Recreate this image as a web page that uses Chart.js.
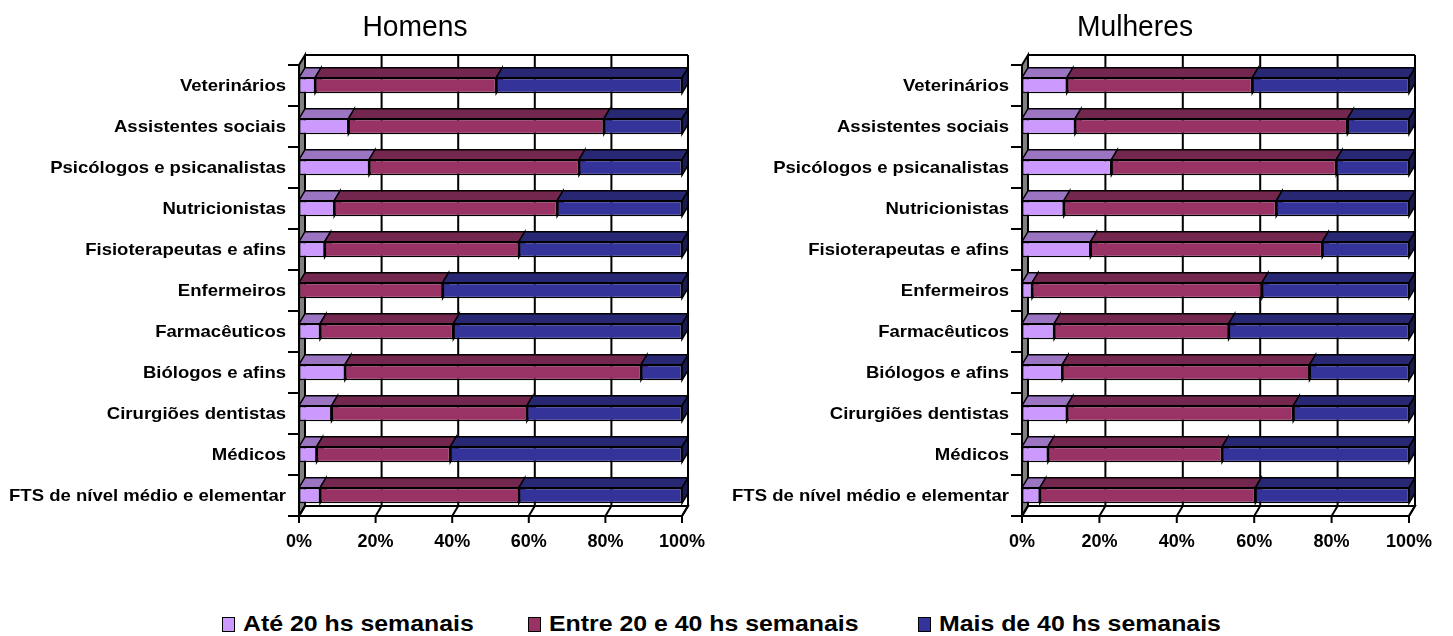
<!DOCTYPE html>
<html>
<head>
<meta charset="utf-8">
<script src="https://cdn.jsdelivr.net/npm/chart.js@4.4.1/dist/chart.umd.min.js"></script>
<style>
  html, body { margin:0; padding:0; background:#fff; }
  #pagina { position:relative; width:1453px; height:636px; overflow:hidden; font-family:"Liberation Sans", Arial, sans-serif; }
  .painel { position:absolute; top:0; }
  .titulo { position:absolute; top:11px; width:300px; text-align:center; font-size:30px; line-height:30px; color:#000; transform:scaleX(0.94); }
  .leg { position:absolute; top:611px; display:flex; align-items:center; white-space:nowrap; }
  .leg i { display:inline-block; width:11px; height:13px; border:1.5px solid #000; margin-right:8px; }
  .leg span { font-size:22px; font-weight:bold; display:inline-block; transform:scaleX(1.13); transform-origin:left center; }
</style>
</head>
<body>
<div id="pagina">
  <canvas id="cHomens" class="painel" width="720" height="560" style="left:0"></canvas>
  <canvas id="cMulheres" class="painel" width="728" height="560" style="left:725px"></canvas>
  <div class="titulo" style="left:265px">Homens</div>
  <div class="titulo" style="left:985px">Mulheres</div>
  <div id="legenda"></div>
</div>
<script>
// categorias de cima para baixo
const categorias = ['Veterinários', 'Assistentes sociais', 'Psicólogos e psicanalistas', 'Nutricionistas',
  'Fisioterapeutas e afins', 'Enfermeiros', 'Farmacêuticos', 'Biólogos e afins',
  'Cirurgiões dentistas', 'Médicos', 'FTS de nível médio e elementar'];
const series = ['Até 20 hs semanais', 'Entre 20 e 40 hs semanais', 'Mais de 40 hs semanais'];

const homensAte20   = [4.2, 12.9, 18.3, 9.2, 6.7, 0, 5.5, 12.0, 8.5, 4.6, 5.5];
const homens20a40   = [47.3, 66.7, 54.8, 58.2, 50.7, 37.5, 34.8, 77.3, 51.0, 34.9, 51.9];
const homensMais40  = [48.5, 20.4, 26.9, 32.6, 42.6, 62.5, 59.7, 10.7, 40.5, 60.5, 42.6];

const mulheresAte20  = [11.6, 13.7, 23.1, 10.8, 17.7, 2.6, 8.3, 10.4, 11.6, 6.7, 4.6];
const mulheres20a40  = [47.9, 70.4, 58.1, 54.9, 59.9, 59.4, 45.1, 63.9, 58.5, 45.0, 55.7];
const mulheresMais40 = [40.5, 15.9, 18.8, 34.3, 22.4, 38.0, 46.6, 25.7, 29.9, 48.3, 39.7];

const xTicks = [0, 20, 40, 60, 80, 100];
const xTickLabels = ['0%', '20%', '40%', '60%', '80%', '100%'];

const cores = ['#CC99FF', '#993366', '#333399'];
const FONTE = '"Liberation Sans", Arial, sans-serif';

// profundidade da perspectiva 3D
const DX = 6, DY = 10;

function tom(hex, f) {
  const n = parseInt(hex.slice(1), 16);
  const r = (n >> 16) & 255, g = (n >> 8) & 255, b = n & 255;
  return `rgb(${Math.round(r * f)},${Math.round(g * f)},${Math.round(b * f)})`;
}

function poligono(ctx, pts, fill) {
  ctx.beginPath();
  ctx.moveTo(pts[0][0], pts[0][1]);
  for (let k = 1; k < pts.length; k++) ctx.lineTo(pts[k][0], pts[k][1]);
  ctx.closePath();
  if (fill) { ctx.fillStyle = fill; ctx.fill(); }
  ctx.stroke();
}

const caixa3d = {
  id: 'caixa3d',
  beforeDatasetsDraw(chart) {
    const { ctx, chartArea: a, scales: { x, y } } = chart;
    const L = a.left, R = a.right, T = a.top, B = a.bottom;
    ctx.save();
    ctx.lineWidth = 2;
    ctx.strokeStyle = '#000';

    // parede do fundo com as linhas de grade
    ctx.fillStyle = '#fff';
    ctx.fillRect(L + DX, T - DY, R - L, B - T);
    ctx.beginPath();
    ctx.moveTo(L + DX, T - DY); ctx.lineTo(R + DX, T - DY);
    xTicks.forEach(v => {
      const px = x.getPixelForValue(v) + DX;
      ctx.moveTo(px, T - DY); ctx.lineTo(px, B - DY);
    });
    ctx.stroke();

    // parede lateral (cinza) e piso
    poligono(ctx, [[L, T], [L + DX, T - DY], [L + DX, B - DY], [L, B]], '#808080');
    poligono(ctx, [[L, B], [L + DX, B - DY], [R + DX, B - DY], [R, B]], '#fff');
    ctx.beginPath();
    xTicks.forEach(v => {
      const px = x.getPixelForValue(v);
      ctx.moveTo(px, B); ctx.lineTo(px + DX, B - DY);
      ctx.moveTo(px, B); ctx.lineTo(px, B + 7);
    });
    // eixo vertical e marcas entre categorias
    ctx.moveTo(L, T); ctx.lineTo(L, B);
    ctx.moveTo(L, B); ctx.lineTo(R, B);
    const n = categorias.length;
    for (let i = 0; i <= n; i++) {
      let yb;
      if (i === 0) yb = T;
      else if (i === n) yb = B;
      else yb = (y.getPixelForValue(i - 1) + y.getPixelForValue(i)) / 2;
      ctx.moveTo(L - 11, yb); ctx.lineTo(L, yb);
    }
    ctx.stroke();

    // faces de cima e lateral de cada segmento
    ctx.lineWidth = 1.5;
    for (let i = 0; i < n; i++) {
      chart.data.datasets.forEach((ds, d) => {
        const el = chart.getDatasetMeta(d).data[i];
        const p = el.getProps(['x', 'y', 'base', 'height'], true);
        const esq = Math.min(p.base, p.x), dir = Math.max(p.base, p.x);
        if (dir - esq < 0.5) return;
        const topo = p.y - p.height / 2, baixo = p.y + p.height / 2;
        poligono(ctx, [[dir, topo], [dir + DX, topo - DY], [dir + DX, baixo - DY], [dir, baixo]], tom(cores[d], 0.5));
        poligono(ctx, [[esq, topo], [esq + DX, topo - DY], [dir + DX, topo - DY], [dir, topo]], tom(cores[d], 0.76));
      });
    }
    ctx.restore();
  },
  afterDraw(chart) {
    const { ctx, chartArea: a, scales: { x, y } } = chart;
    ctx.save();
    ctx.fillStyle = '#000';
    ctx.textBaseline = 'middle';
    ctx.font = 'bold 17px ' + FONTE;
    ctx.textAlign = 'right';
    categorias.forEach((c, i) => {
      ctx.save();
      ctx.translate(a.left - 13, y.getPixelForValue(i) + 1);
      ctx.scale(1.09, 1);
      ctx.fillText(c, 0, 0);
      ctx.restore();
    });
    ctx.font = 'bold 18px ' + FONTE;
    ctx.textAlign = 'center';
    xTicks.forEach((v, k) => {
      ctx.fillText(xTickLabels[k], x.getPixelForValue(v), a.bottom + 26);
    });
    ctx.restore();
  }
};

function grafico(id, dados, padding) {
  return new Chart(document.getElementById(id), {
    type: 'bar',
    data: {
      labels: categorias,
      datasets: series.map((s, k) => ({
        label: s,
        data: dados[k],
        backgroundColor: cores[k],
        borderColor: '#000',
        borderWidth: 1.5,
        borderSkipped: false,
        barPercentage: 0.38,
        categoryPercentage: 1
      }))
    },
    options: {
      indexAxis: 'y',
      responsive: false,
      animation: false,
      layout: { padding },
      plugins: { legend: { display: false }, title: { display: false }, tooltip: { enabled: false } },
      scales: {
        x: { stacked: true, min: 0, max: 100, display: false },
        y: { stacked: true, display: false }
      }
    },
    plugins: [caixa3d]
  });
}

grafico('cHomens', [homensAte20, homens20a40, homensMais40], { left: 299, right: 38, top: 65, bottom: 44 });
grafico('cMulheres', [mulheresAte20, mulheres20a40, mulheresMais40], { left: 297, right: 44, top: 65, bottom: 44 });

// legenda compartilhada
const legX = [222, 528, 918];
const legenda = document.getElementById('legenda');
series.forEach((s, k) => {
  const item = document.createElement('div');
  item.className = 'leg';
  item.style.left = legX[k] + 'px';
  item.innerHTML = `<i style="background:${cores[k]}"></i><span>${s}</span>`;
  legenda.appendChild(item);
});
</script>
</body>
</html>
